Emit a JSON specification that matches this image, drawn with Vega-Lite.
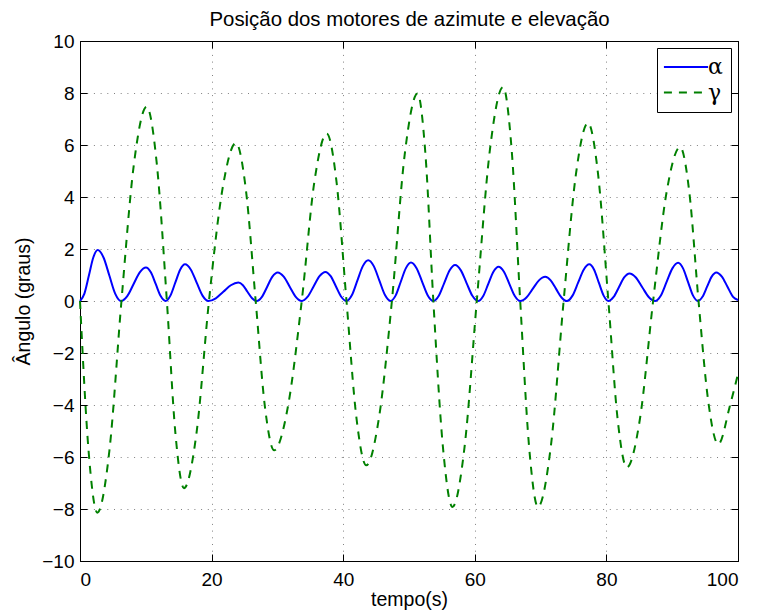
{
  "$schema": "https://vega.github.io/schema/vega-lite/v6.json",
  "width": 658,
  "height": 520,
  "autosize": {"type": "none"},
  "padding": {"left": 80, "top": 41, "right": 22, "bottom": 53},
  "background": "white",
  "config": {"view": {"stroke": "black", "strokeWidth": 1}, "font": "Liberation Sans"},
  "datasets": {
    "alpha": [
      {"tempo":0,"angulo":0},{"tempo":0.67,"angulo":0.286},{"tempo":1.35,"angulo":0.98},{"tempo":2.02,"angulo":1.674},{"tempo":2.69,"angulo":1.96},{"tempo":3.575,"angulo":1.674},{"tempo":4.46,"angulo":0.98},{"tempo":5.345,"angulo":0.286},{"tempo":6.23,"angulo":0},
      {"tempo":7.18,"angulo":0.188},{"tempo":8.13,"angulo":0.645},{"tempo":9.08,"angulo":1.102},{"tempo":10.03,"angulo":1.29},{"tempo":10.77,"angulo":1.102},{"tempo":11.52,"angulo":0.645},{"tempo":12.26,"angulo":0.188},{"tempo":13.0,"angulo":0},
      {"tempo":13.74,"angulo":0.206},{"tempo":14.48,"angulo":0.705},{"tempo":15.22,"angulo":1.204},{"tempo":15.96,"angulo":1.41},{"tempo":16.85,"angulo":1.204},{"tempo":17.73,"angulo":0.705},{"tempo":18.62,"angulo":0.206},{"tempo":19.5,"angulo":0},
      {"tempo":20.64,"angulo":0.104},{"tempo":21.78,"angulo":0.355},{"tempo":22.92,"angulo":0.606},{"tempo":24.06,"angulo":0.71},{"tempo":24.76,"angulo":0.606},{"tempo":25.45,"angulo":0.355},{"tempo":26.15,"angulo":0.104},{"tempo":26.85,"angulo":0},
      {"tempo":27.65,"angulo":0.161},{"tempo":28.45,"angulo":0.55},{"tempo":29.24,"angulo":0.939},{"tempo":30.04,"angulo":1.1},{"tempo":30.96,"angulo":0.939},{"tempo":31.87,"angulo":0.55},{"tempo":32.79,"angulo":0.161},{"tempo":33.7,"angulo":0},
      {"tempo":34.6,"angulo":0.164},{"tempo":35.5,"angulo":0.56},{"tempo":36.4,"angulo":0.956},{"tempo":37.3,"angulo":1.12},{"tempo":38.1,"angulo":0.956},{"tempo":38.9,"angulo":0.56},{"tempo":39.7,"angulo":0.164},{"tempo":40.5,"angulo":0},
      {"tempo":41.33,"angulo":0.229},{"tempo":42.15,"angulo":0.785},{"tempo":42.98,"angulo":1.341},{"tempo":43.8,"angulo":1.57},{"tempo":44.65,"angulo":1.341},{"tempo":45.5,"angulo":0.785},{"tempo":46.35,"angulo":0.229},{"tempo":47.2,"angulo":0},
      {"tempo":47.98,"angulo":0.216},{"tempo":48.75,"angulo":0.74},{"tempo":49.53,"angulo":1.264},{"tempo":50.3,"angulo":1.48},{"tempo":51.15,"angulo":1.264},{"tempo":52.0,"angulo":0.74},{"tempo":52.85,"angulo":0.216},{"tempo":53.7,"angulo":0},
      {"tempo":54.53,"angulo":0.201},{"tempo":55.35,"angulo":0.69},{"tempo":56.18,"angulo":1.179},{"tempo":57.0,"angulo":1.38},{"tempo":57.88,"angulo":1.179},{"tempo":58.75,"angulo":0.69},{"tempo":59.63,"angulo":0.201},{"tempo":60.5,"angulo":0},
      {"tempo":61.28,"angulo":0.193},{"tempo":62.05,"angulo":0.66},{"tempo":62.83,"angulo":1.127},{"tempo":63.6,"angulo":1.32},{"tempo":64.43,"angulo":1.127},{"tempo":65.25,"angulo":0.66},{"tempo":66.08,"angulo":0.193},{"tempo":66.9,"angulo":0},
      {"tempo":67.85,"angulo":0.136},{"tempo":68.8,"angulo":0.465},{"tempo":69.75,"angulo":0.794},{"tempo":70.7,"angulo":0.93},{"tempo":71.53,"angulo":0.794},{"tempo":72.35,"angulo":0.465},{"tempo":73.18,"angulo":0.136},{"tempo":74.0,"angulo":0},
      {"tempo":74.85,"angulo":0.206},{"tempo":75.7,"angulo":0.705},{"tempo":76.55,"angulo":1.204},{"tempo":77.4,"angulo":1.41},{"tempo":78.13,"angulo":1.204},{"tempo":78.85,"angulo":0.705},{"tempo":79.58,"angulo":0.206},{"tempo":80.3,"angulo":0},
      {"tempo":81.1,"angulo":0.155},{"tempo":81.9,"angulo":0.53},{"tempo":82.7,"angulo":0.905},{"tempo":83.5,"angulo":1.06},{"tempo":84.48,"angulo":0.905},{"tempo":85.45,"angulo":0.53},{"tempo":86.43,"angulo":0.155},{"tempo":87.4,"angulo":0},
      {"tempo":88.28,"angulo":0.215},{"tempo":89.15,"angulo":0.735},{"tempo":90.03,"angulo":1.255},{"tempo":90.9,"angulo":1.47},{"tempo":91.65,"angulo":1.255},{"tempo":92.4,"angulo":0.735},{"tempo":93.15,"angulo":0.215},{"tempo":93.9,"angulo":0},
      {"tempo":94.6,"angulo":0.161},{"tempo":95.3,"angulo":0.55},{"tempo":96.0,"angulo":0.939},{"tempo":96.7,"angulo":1.1},{"tempo":97.55,"angulo":0.939},{"tempo":98.4,"angulo":0.55},{"tempo":99.25,"angulo":0.161},{"tempo":100,"angulo":0.04}
    ],
    "gamma": [
      {"tempo":0,"angulo":0},{"tempo":1.3,"angulo":-5.75},{"tempo":2.63,"angulo":-8.14},{"tempo":4.47,"angulo":-5.75},{"tempo":6.3,"angulo":0},
      {"tempo":8.2,"angulo":5.28},{"tempo":10.13,"angulo":7.47},{"tempo":11.67,"angulo":5.28},{"tempo":13.2,"angulo":0},
      {"tempo":14.5,"angulo":-5.09},{"tempo":15.8,"angulo":-7.2},{"tempo":17.7,"angulo":-5.09},{"tempo":19.6,"angulo":0},
      {"tempo":21.65,"angulo":4.3},{"tempo":23.7,"angulo":6.08},{"tempo":25.2,"angulo":4.3},{"tempo":26.7,"angulo":0},
      {"tempo":28.1,"angulo":-4.06},{"tempo":29.5,"angulo":-5.74},{"tempo":31.6,"angulo":-4.06},{"tempo":33.7,"angulo":0},
      {"tempo":35.6,"angulo":4.55},{"tempo":37.5,"angulo":6.44},{"tempo":39.0,"angulo":4.55},{"tempo":40.5,"angulo":0},
      {"tempo":42.0,"angulo":-4.47},{"tempo":43.5,"angulo":-6.32},{"tempo":45.45,"angulo":-4.47},{"tempo":47.4,"angulo":0},
      {"tempo":49.35,"angulo":5.64},{"tempo":51.3,"angulo":7.98},{"tempo":52.5,"angulo":5.64},{"tempo":53.7,"angulo":0},
      {"tempo":55.15,"angulo":-5.6},{"tempo":56.6,"angulo":-7.92},{"tempo":58.45,"angulo":-5.6},{"tempo":60.3,"angulo":0},
      {"tempo":62.3,"angulo":5.82},{"tempo":64.3,"angulo":8.23},{"tempo":65.6,"angulo":5.82},{"tempo":66.9,"angulo":0},
      {"tempo":68.25,"angulo":-5.6},{"tempo":69.6,"angulo":-7.92},{"tempo":71.55,"angulo":-5.6},{"tempo":73.5,"angulo":0},
      {"tempo":75.35,"angulo":4.84},{"tempo":77.2,"angulo":6.85},{"tempo":78.75,"angulo":4.84},{"tempo":80.3,"angulo":0},
      {"tempo":81.7,"angulo":-4.53},{"tempo":83.1,"angulo":-6.4},{"tempo":85.1,"angulo":-4.53},{"tempo":87.1,"angulo":0},
      {"tempo":89.15,"angulo":4.19},{"tempo":91.2,"angulo":5.92},{"tempo":92.6,"angulo":4.19},{"tempo":94.0,"angulo":0},
      {"tempo":95.5,"angulo":-3.9},{"tempo":97.0,"angulo":-5.51},{"tempo":98.8,"angulo":-4.0},{"tempo":100,"angulo":-2.8}
    ]
  },
  "layer": [
    {
      "data": {"name": "alpha"},
      "transform": [{"calculate": "'α'", "as": "serie"}],
      "mark": {"type": "line", "strokeWidth": 2, "interpolate": "monotone"},
      "encoding": {
        "x": {"field": "tempo", "type": "quantitative", "scale": {"domain": [0, 100], "nice": false},
          "axis": {"orient": "bottom", "title": "tempo(s)", "values": [0, 20, 40, 60, 80, 100], "grid": true, "gridColor": "#808080", "gridDash": [1, 5.7], "tickSize": -7, "tickColor": "black", "domainColor": "black", "labelFontSize": 19, "labelFont": "Liberation Sans", "labelColor": "black", "labelPadding": 16, "titleFontSize": 19.5, "titleFont": "Liberation Sans", "titleFontWeight": "normal", "titleColor": "black", "titleBaseline": "alphabetic", "titleY": 44}},
        "y": {"field": "angulo", "type": "quantitative", "scale": {"domain": [-10, 10], "nice": false},
          "axis": {"orient": "left", "title": "Ângulo (graus)", "values": [-10, -8, -6, -4, -2, 0, 2, 4, 6, 8, 10], "grid": true, "gridColor": "#808080", "gridDash": [1, 5.7], "tickSize": -7, "tickColor": "black", "domainColor": "black", "labelFontSize": 19, "labelFont": "Liberation Sans", "labelColor": "black", "labelPadding": 13, "titleFontSize": 19.5, "titleFont": "Liberation Sans", "titleFontWeight": "normal", "titleColor": "black", "titleBaseline": "alphabetic", "titleX": -51, "titleY": 260, "titleAngle": -90, "titleAlign": "center"}},
        "color": {"field": "serie", "type": "nominal", "scale": {"domain": ["α", "γ"], "range": ["#0000ff", "#008000"]},
          "legend": {"orient": "top-right", "offset": 7, "title": null, "symbolType": "M-5,0H5", "symbolSize": 78, "symbolStrokeWidth": 2, "symbolOffset": 10, "labelFont": "DejaVu Serif", "labelFontSize": 22, "labelColor": "black", "strokeColor": "black", "fillColor": "white", "padding": 8, "labelOffset": 11, "rowPadding": 3.5}}
      }
    },
    {
      "data": {"name": "gamma"},
      "transform": [{"calculate": "'γ'", "as": "serie"}],
      "mark": {"type": "line", "strokeWidth": 2, "interpolate": "monotone"},
      "encoding": {
        "x": {"field": "tempo", "type": "quantitative", "axis": {"orient": "top", "labels": false, "grid": false, "title": "Posição dos motores de azimute e elevação", "titleFontSize": 20.4, "titleFont": "Liberation Sans", "titleFontWeight": "normal", "titleColor": "black", "titleBaseline": "alphabetic", "titleY": -16, "titleX": 329, "titleAlign": "center", "values": [0, 20, 40, 60, 80, 100], "tickSize": -7, "tickColor": "black", "domainColor": "black"}},
        "y": {"field": "angulo", "type": "quantitative", "axis": {"orient": "right", "labels": false, "grid": false, "title": null, "values": [-10, -8, -6, -4, -2, 0, 2, 4, 6, 8, 10], "tickSize": -7, "tickColor": "black", "domainColor": "black"}},
        "color": {"field": "serie", "type": "nominal", "scale": {"domain": ["α", "γ"], "range": ["#0000ff", "#008000"]},
          "legend": {"orient": "top-right", "offset": 7, "title": null, "symbolType": "M-5,0H5", "symbolSize": 78, "symbolStrokeWidth": 2, "symbolOffset": 10, "labelFont": "DejaVu Serif", "labelFontSize": 22, "labelColor": "black", "strokeColor": "black", "fillColor": "white", "padding": 8, "labelOffset": 11, "rowPadding": 3.5}},
        "strokeDash": {"field": "serie", "type": "nominal", "scale": {"domain": ["α", "γ"], "range": [[1, 0], [8, 7]]},
          "legend": {"orient": "top-right", "offset": 7, "title": null, "symbolType": "M-5,0H5", "symbolSize": 78, "symbolStrokeWidth": 2, "symbolOffset": 10, "labelFont": "DejaVu Serif", "labelFontSize": 22, "labelColor": "black", "strokeColor": "black", "fillColor": "white", "padding": 8, "labelOffset": 11, "rowPadding": 3.5}}
      }
    }
  ],
  "resolve": {"axis": {"x": "independent", "y": "independent"}}
}
